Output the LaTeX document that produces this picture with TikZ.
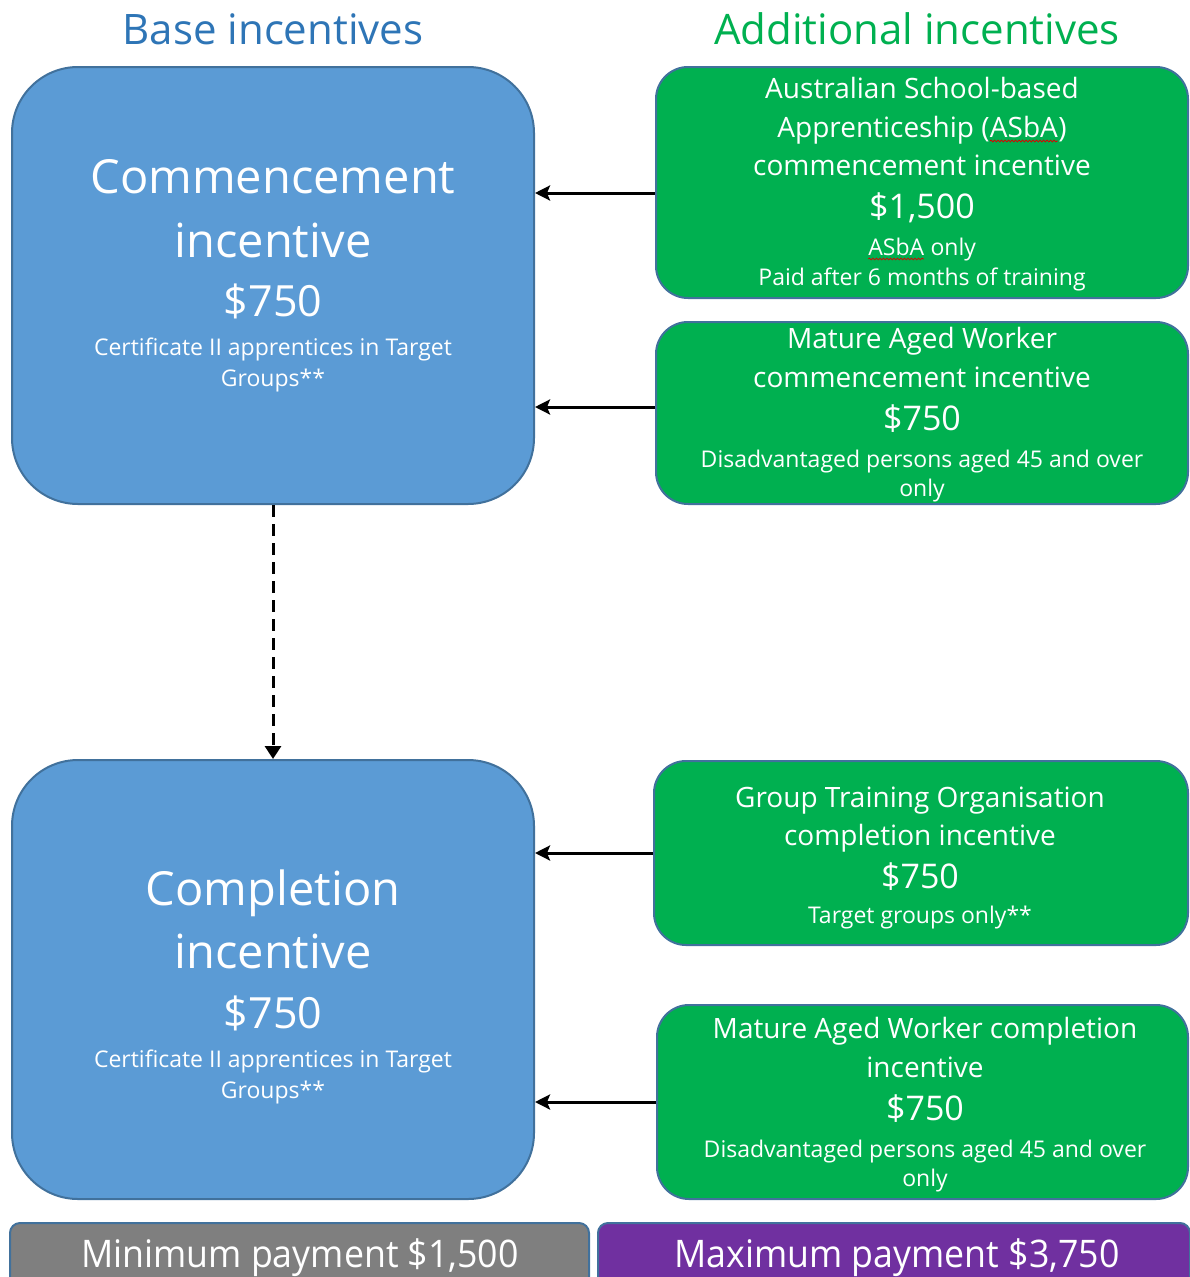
\documentclass[tikz,border=0pt]{standalone}
\usepackage{fontspec}
\usepackage{graphicx}
\setmainfont{Open Sans}
\usetikzlibrary{arrows.meta,decorations.pathmorphing}
\definecolor{bfill}{HTML}{5B9BD5}
\definecolor{gfill}{HTML}{00B050}
\definecolor{edge}{HTML}{41719C}
\definecolor{titleblue}{HTML}{2E75B6}
\definecolor{greyfill}{HTML}{7F7F7F}
\definecolor{purplefill}{HTML}{7030A0}
\newcommand\osz[1]{\fontsize{#1}{#1}\selectfont}
\newcommand\spellerr[2]{\tikz[baseline=(#1.base)]{\node[inner sep=0pt,outer sep=0pt,anchor=base] (#1) at (0,0) {#2};
  \draw[red!85!black, line width=0.8pt, decorate, decoration={snake, amplitude=0.9pt, segment length=3.5pt}]
   ([yshift=-4pt]#1.base west) -- ([yshift=-4pt]#1.base east);}}
\tikzset{
  bluebox/.style={draw=edge, line width=2pt, fill=bfill, rounded corners=66pt, inner sep=0pt},
  greenbox/.style={draw=edge, line width=2pt, fill=gfill, rounded corners=32pt, inner sep=0pt},
  sumbox/.style={draw=edge, line width=2pt, rounded corners=10pt, inner sep=0pt},
  tx/.style={text=white, anchor=base, inner sep=0pt},
  ttl/.style={anchor=base, inner sep=0pt, font=\osz{42}},
  arr/.style={line width=3pt, -{Stealth[length=15pt,width=15pt,inset=3pt]}},
  darr/.style={line width=3pt, dash pattern=on 12pt off 7pt, -{Triangle[length=13pt,width=16pt]}},
}
\begin{document}
\begin{tikzpicture}[x=1pt,y=-1pt]
\useasboundingbox (0,0) rectangle (1190,1277);
\begin{scope}
\clip (0,0) rectangle (1190,1277);
% titles
\node[ttl, text=titleblue] (t1) at (273,44) {Base incentives};
\node[ttl, text=gfill] (t2) at (917,44) {Additional incentives};

% boxes
\node[bluebox, minimum width=522pt, minimum height=437pt] (c1) at (273,285.5) {};
\node[bluebox, minimum width=522pt, minimum height=439pt] (c2) at (273,979.5) {};
\node[greenbox, minimum width=532pt, minimum height=231pt] (gA) at (922,182.5) {};
\node[greenbox, minimum width=532pt, minimum height=182pt] (gB) at (922,413) {};
\node[greenbox, minimum width=534pt, minimum height=184pt] (gC) at (921,853) {};
\node[greenbox, minimum width=531pt, minimum height=194pt] (gD) at (922.5,1102) {};
\node[sumbox, fill=greyfill, minimum width=579pt, minimum height=77pt] (mn) at (299.5,1261.5) {};
\node[sumbox, fill=purplefill, minimum width=592pt, minimum height=77pt] (mx) at (894,1261.5) {};

% commencement text
\node[tx, font=\osz{47}] (c1a) at (273,193) {Commencement};
\node[tx, font=\osz{47}] (c1b) at (273,257) {incentive};
\node[tx, font=\osz{43}] (c1c) at (273,316) {\$750};
\node[tx, font=\osz{23}] (c1d) at (273,355) {Certificate II apprentices in Target};
\node[tx, font=\osz{23}] (c1e) at (273,386) {Groups**};

% completion text
\node[tx, font=\osz{47}] (c2a) at (273,905) {Completion};
\node[tx, font=\osz{47}] (c2b) at (273,968) {incentive};
\node[tx, font=\osz{43}] (c2c) at (273,1028) {\$750};
\node[tx, font=\osz{23}] (c2d) at (273,1067) {Certificate II apprentices in Target};
\node[tx, font=\osz{23}] (c2e) at (273,1098) {Groups**};

% green A
\node[tx, font=\osz{28}] (gAa) at (922,98) {Australian School-based};
\node[tx, font=\osz{28}] (gAb) at (922,137) {Apprenticeship (\spellerr{sa}{ASbA})};
\node[tx, font=\osz{28}] (gAc) at (922,175) {commencement incentive};
\node[tx, font=\osz{34}] (gAd) at (922,218) {\$1,500};
\node[tx, font=\osz{23}] (gAe) at (922,255) {\spellerr{sb}{ASbA} only};
\node[tx, font=\osz{23}] (gAf) at (922,285) {Paid after 6 months of training};

% green B
\node[tx, font=\osz{28}] (gBa) at (922,348) {Mature Aged Worker};
\node[tx, font=\osz{28}] (gBb) at (922,387) {commencement incentive};
\node[tx, font=\osz{34}] (gBc) at (922,430) {\$750};
\node[tx, font=\osz{23}] (gBd) at (922,467) {Disadvantaged persons aged 45 and over};
\node[tx, font=\osz{23}] (gBe) at (922,496) {only};

% green C
\node[tx, font=\osz{28}] (gCa) at (920,807) {Group Training Organisation};
\node[tx, font=\osz{28}] (gCb) at (920,845) {completion incentive};
\node[tx, font=\osz{34}] (gCc) at (920,888) {\$750};
\node[tx, font=\osz{23}] (gCd) at (920,923) {Target groups only**};

% green D
\node[tx, font=\osz{28}] (gDa) at (925,1038) {Mature Aged Worker completion};
\node[tx, font=\osz{28}] (gDb) at (925,1077) {incentive};
\node[tx, font=\osz{34}] (gDc) at (925,1120) {\$750};
\node[tx, font=\osz{23}] (gDd) at (925,1157) {Disadvantaged persons aged 45 and over};
\node[tx, font=\osz{23}] (gDe) at (925,1186) {only};

% summary
\node[tx, font=\osz{38}] (mnt) at (300,1267) {\scalebox{0.94}[1]{Minimum payment \$1,500}};
\node[tx, font=\osz{38}] (mxt) at (897,1267) {\scalebox{0.94}[1]{Maximum payment \$3,750}};

% connectors
\coordinate (pA) at ([yshift=-10.5pt]gA.west);
\coordinate (pB) at ([yshift=6pt]gB.west);
\draw[arr] (pA) -- (pA -| c1.east);
\draw[arr] (pB) -- (pB -| c1.east);
\draw[arr] (gC.west) -- (gC.west -| c2.east);
\draw[arr] (gD.west) -- (gD.west -| c2.east);
\draw[darr] (c1.south) -- (c2.north);
\end{scope}
\end{tikzpicture}
\end{document}
